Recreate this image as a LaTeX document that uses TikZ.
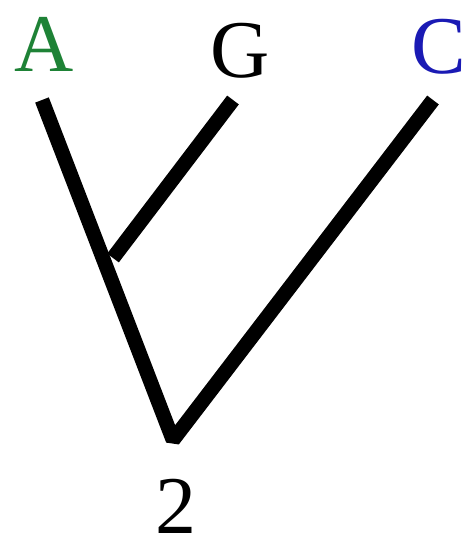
\documentclass[tikz,border=0pt]{standalone}
\usepackage{fontspec}
\setmainfont{Liberation Serif}
\usetikzlibrary{positioning}
\definecolor{leafgreen}{HTML}{1E8236}
\definecolor{leafblue}{HTML}{1A1AB4}

\begin{document}
\begin{tikzpicture}[
  x=0.5pt, y=-0.5pt,
  % leaf and root labels, set large like the original
  leaf/.style = {font=\fontsize{41}{41}\selectfont, inner sep=0pt, anchor=base,
                 text depth=0pt},
  branch/.style = {line width=7.3pt, draw=black, line join=bevel},
]
\useasboundingbox (0,0) rectangle (468,551);

% ------------------------------------------------------------------ labels --
\node[leaf, text=leafgreen] (a) at (44,72) {A};
\node[leaf] (g) at (240,78) {G};
\node[leaf, text=leafblue] (c) at (439,74) {C};
\node[leaf] (root) at (176,533) {2};

% -------------------------------------------------------------- branches --
\coordinate (atip) at (42,100);
\coordinate (gtip) at (233,100);
\coordinate (ctip) at (433,100);
\coordinate (base) at (173,440);
\coordinate (join) at (113,258);

\draw[branch] (atip) -- (base) -- (ctip);
\draw[branch] (gtip) -- (join);

\end{tikzpicture}
\end{document}
